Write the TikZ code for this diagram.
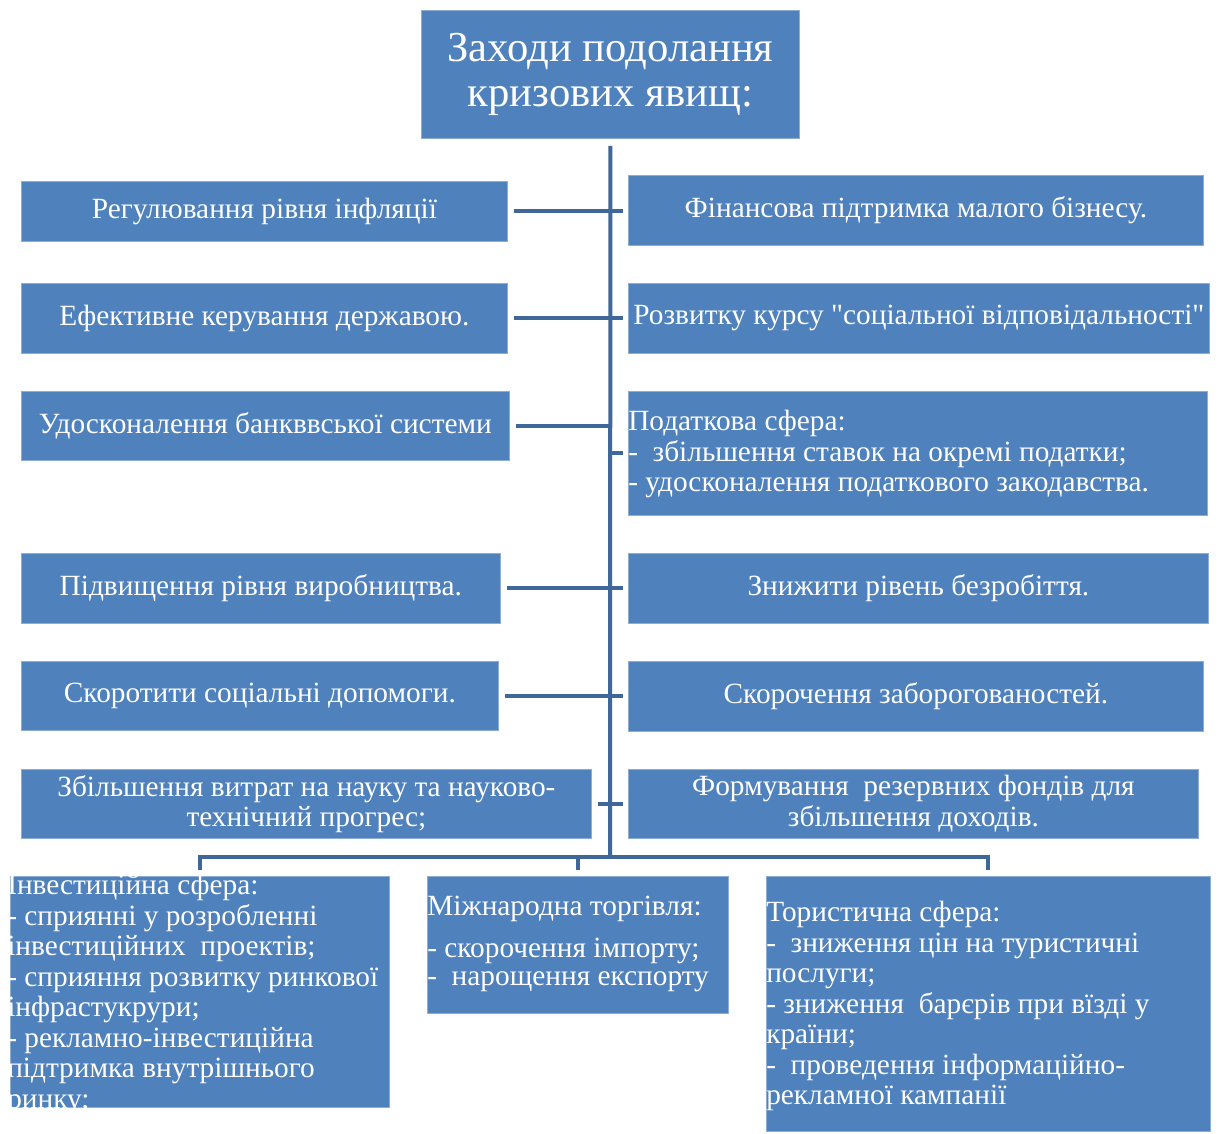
\documentclass[tikz,border=0pt]{standalone}
\usepackage{fontspec}
\setmainfont{Liberation Serif}
\usepackage{tikz}
\definecolor{boxblue}{RGB}{79,129,189}
\definecolor{lineblue}{RGB}{63,103,154}

\begin{document}
\begin{tikzpicture}[x=0.75pt,y=0.75pt,yscale=-1,xscale=1,
    box/.style={draw=boxblue!65!white, line width=0.6pt, fill=boxblue, text=white, inner sep=0pt, anchor=north west, align=center, font=\fontsize{22}{22.9}\selectfont},
    txt/.style={text=white, inner sep=0pt, anchor=north west, align=left, font=\fontsize{22}{22.9}\selectfont},
    link/.style={draw=lineblue, line width=3pt}]
        \useasboundingbox (0,0) rectangle (1219,1133);

        % title
        \draw (421,10) node [box, minimum width=283.5pt, minimum height=96pt, font=\fontsize{32}{34}\selectfont] (title) {Заходи подолання\\кризових явищ:};

        % left column
        \draw (21,181) node [box, minimum width=364.5pt, minimum height=45pt] (regul) {Регулювання рівня інфляції};
        \draw (21,283) node [box, minimum width=364.5pt, minimum height=52.5pt] (efekt) {Ефективне керування державою.};
        \draw (21,391) node [box, minimum width=366pt, minimum height=51.75pt] (bank) {Удосконалення банкввської системи};
        \draw (21,553) node [box, minimum width=359.25pt, minimum height=52.5pt] (vyrob) {Підвищення рівня виробництва.};
        \draw (21,661) node [box, minimum width=357.75pt, minimum height=51.75pt] (dopom) {Скоротити соціальні допомоги.};
        \draw (21,769) node [box, minimum width=427.5pt, minimum height=51.75pt] (nauka) {Збільшення витрат на науку та науково-\\технічний прогрес;};

        % right column
        \draw (628,175) node [box, minimum width=431.25pt, minimum height=52.5pt] (finans) {Фінансова підтримка малого бізнесу.};
        \draw (628,283) node [box, minimum width=435.75pt, minimum height=52.5pt] (socvid) {Розвитку курсу \textquotedbl соціальної відповідальності\textquotedbl};
        \draw (628,391) node [box, minimum width=434.25pt, minimum height=93pt] (podat) {};
        \draw (628,410) node [txt] (podattxt) {Податкова сфера:\\- \ збільшення ставок на окремі податки;\\- удосконалення податкового закодавства.};
        \draw (628,553) node [box, minimum width=435pt, minimum height=52.5pt] (bezrob) {Знижити рівень безробіття.};
        \draw (628,661) node [box, minimum width=431.25pt, minimum height=52.5pt] (zaborg) {Скорочення заборогованостей.};
        \draw (628,769) node [box, minimum width=427.5pt, minimum height=51.75pt] (rezerv) {Формування \ резервних фондів для\\збільшення доходів.};

        % bottom row
        \draw (10,876) node [box, minimum width=284.25pt, minimum height=173.25pt] (invest) {};
        \begin{scope}
            \clip (invest.north west) rectangle (invest.south east);
            \draw (7,874) node [txt] (investtxt) {Інвестиційна сфера:\\- сприянні у розробленні\\інвестиційних \ проектів;\\- сприяння розвитку ринкової\\інфрастукрури;\\- рекламно-інвестиційна\\підтримка внутрішнього\\ринку;};
        \end{scope}
        \draw (427,876) node [box, minimum width=225.75pt, minimum height=102.75pt] (torg) {};
        \draw (427,896) node [txt, font=\fontsize{22}{21}\selectfont] (torgtxt) {Міжнародна торгівля:\\[10.5pt]- скорочення імпорту;\\- \ нарощення експорту};
        \draw (766,876) node [box, minimum width=333pt, minimum height=191.25pt] (turyzm) {};
        \draw (766,901) node [txt] (turyzmtxt) {Тористична сфера:\\- \ зниження цін на туристичні\\послуги;\\- зниження \ барєрів при вїзді у\\країни;\\- \ проведення інформаційно-\\рекламної кампанії};

        % connectors
        \coordinate (bus) at (610,857);
        \draw [link, shorten <=5.25pt] (title.south) -- (bus);
        \draw [link, shorten <=4.5pt, shorten >=4.5pt] (invest.north) |- (bus) -| (turyzm.north);
        \draw [link, shorten <=4.5pt] (torg.north) -- (torg.north |- bus);
        \draw [link, shorten <=4.5pt, shorten >=3.75pt] (regul.east) -- (regul.east -| finans.west);
        \draw [link, shorten <=4.5pt, shorten >=3.75pt] (efekt.east) -- (efekt.east -| socvid.west);
        \draw [link, shorten <=4.5pt] (bank.east) -- (bank.east -| bus);
        \draw [link, shorten >=3.75pt] (podat.west -| bus) -- (podat.west);
        \draw [link, shorten <=4.5pt, shorten >=3.75pt] (vyrob.east) -- (vyrob.east -| bezrob.west);
        \draw [link, shorten <=4.5pt, shorten >=3.75pt] (dopom.east) -- (dopom.east -| zaborg.west);
        \draw [link, shorten <=4.5pt, shorten >=3.75pt] (nauka.east) -- (nauka.east -| rezerv.west);
    \end{tikzpicture}
\end{document}
